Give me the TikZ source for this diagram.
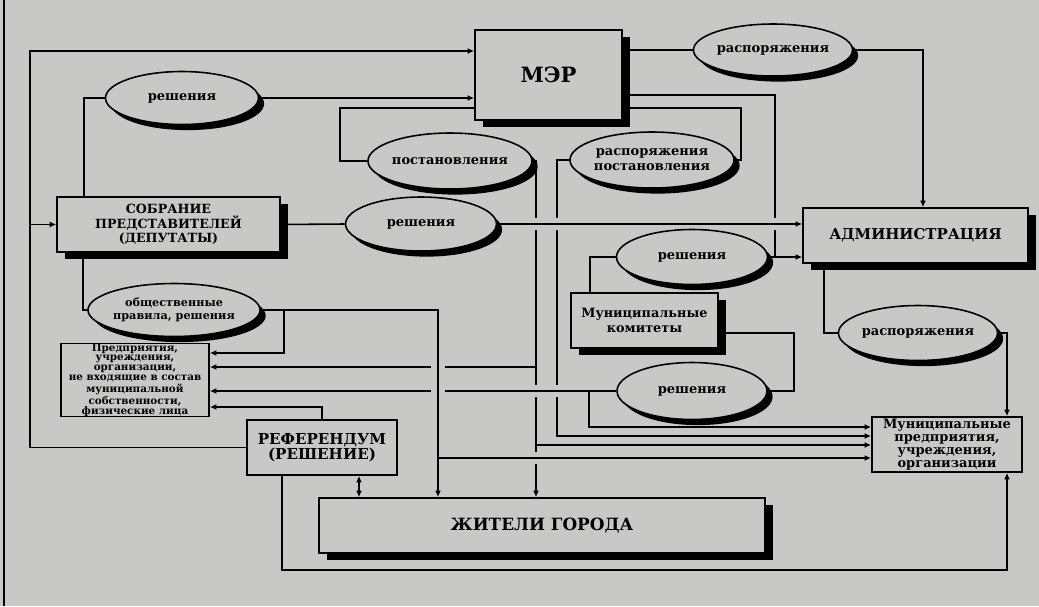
\documentclass[tikz,border=0pt]{standalone}
\usepackage{fontspec}
\setmainfont{DejaVu Serif}
\usetikzlibrary{shapes.geometric,shadows,arrows.meta}
\definecolor{paper}{RGB}{200,200,199}
\newcommand\cutv[1]{\fill[paper] (#1) ++(-4,-6) rectangle ++(8,12);}
\newcommand\cuth[1]{\fill[paper] (#1) ++(-7,-4) rectangle ++(14,8);}
\newcommand\fs[2]{\bfseries\fontsize{#1}{#2}\selectfont}
\tikzset{
  box/.style={draw, fill=paper, inner sep=0pt, align=center},
  shbox/.style={box, general shadow={fill=black, shadow xshift=4.8pt, shadow yshift=-4pt}},
  oval/.style={ellipse, draw, fill=paper, inner sep=0pt, align=center,
    font=\fs{7.4}{8.6}, general shadow={fill=black, shadow xshift=3.2pt, shadow yshift=-3.2pt}}
}

\begin{document}
\begin{tikzpicture}[x=0.02cm, y=-0.02cm, line width=0.9pt,
    >={Latex[length=3.8pt,width=3.4pt]}]
      \fill[paper] (0,0) rectangle (1039,606);
      \useasboundingbox (0,0) rectangle (1039,606);
      \draw[line width=0.6pt] (4,0) -- (4,606);

      \node[shbox, minimum width=2.94cm, minimum height=1.8cm, font=\fs{12}{14}] (mer) at (548.5,75) {МЭР};
      \node[oval, minimum width=3.0cm, minimum height=1.04cm] (rasp1) at (773,50) {распоряжения};
      \node[oval, minimum width=3.06cm, minimum height=1.06cm] (re1) at (182,98) {решения};
      \node[oval, minimum width=3.12cm, minimum height=1.12cm] (post) at (450,161) {постановления};
      \node[oval, minimum width=3.06cm, minimum height=1.12cm] (rasp2) at (652,160) {распоряжения\\постановления};
      \node[shbox, minimum width=4.46cm, minimum height=1.1cm, font=\fs{7.2}{8.4}] (sobr) at (168.5,224.5) {СОБРАНИЕ\\ПРЕДСТАВИТЕЛЕЙ\\(ДЕПУТАТЫ)};
      \node[oval, minimum width=3.02cm, minimum height=1.08cm] (re2) at (421,224) {решения};
      \node[shbox, minimum width=4.5cm, minimum height=1.1cm, font=\fs{8.5}{10}] (adm) at (915.5,235.5) {АДМИНИСТРАЦИЯ};
      \node[oval, minimum width=3.02cm, minimum height=1.1cm] (re3) at (692,257) {решения};
      \node[shbox, minimum width=2.94cm, minimum height=1.1cm, font=\fs{7.3}{8.6}] (kom) at (644.5,320.5) {Муниципальные\\комитеты};
      \node[oval, minimum width=3.06cm, minimum height=1.1cm] (rasp3) at (918,333) {распоряжения};
      \node[oval, minimum width=3.0cm, minimum height=1.14cm] (re4) at (692,391) {решения};
      \node[oval, minimum width=3.04cm, minimum height=1.06cm, font=\fs{6.4}{7.4}] (obsh) at (174,310) {общественные\\правила, решения};
      \node[box, minimum width=2.96cm, minimum height=1.44cm, font=\fs{5.9}{5.6}] (pred) at (135,380) {Предприятия,\\учреждения,\\организации,\\не входящие в состав\\муниципальной\\собственности,\\физические лица};
      \node[box, minimum width=3.0cm, minimum height=1.1cm, font=\fs{8.6}{8.8}] (ref) at (322,447.5) {РЕФЕРЕНДУМ\\(РЕШЕНИЕ)};
      \node[shbox, minimum width=8.92cm, minimum height=1.1cm, font=\fs{9.6}{12}] (zhit) at (542,525.5) {ЖИТЕЛИ ГОРОДА};
      \node[box, minimum width=3.0cm, minimum height=1.1cm, font=\fs{7.4}{7.5}] (mpred) at (947,444.5) {Муниципальные\\предприятия,\\учреждения,\\организации};

      \coordinate (Lt) at (30,51);
      \coordinate (Lm) at (30,224.5);
      \coordinate (Lb) at (30,447.5);
      \coordinate (Re1l) at (84,98);
      \coordinate (Postt) at (340,108);
      \coordinate (Postr) at (536,161);
      \coordinate (Raspt) at (741,108);
      \coordinate (Raspl) at (557,160);
      \coordinate (Raspb) at (557,436);
      \coordinate (Admt) at (775,95);
      \coordinate (Admj) at (775,257);
      \coordinate (Rasp1r) at (923,50);
      \coordinate (Komt) at (590,257);
      \coordinate (Komr) at (794,333);
      \coordinate (Re4r) at (794,391);
      \coordinate (Re4b) at (589,391);
      \coordinate (Re4m) at (589,427);
      \coordinate (Pred1) at (536,367);
      \coordinate (Mpr3) at (536,445);
      \coordinate (Obshl) at (83,310);
      \coordinate (Obshm) at (284,310);
      \coordinate (Obshr) at (438,310);
      \coordinate (Obshb) at (438,458);
      \coordinate (Pred0) at (284,353);
      \coordinate (Reft) at (322,407);
      \coordinate (Refz) at (359,0);
      \coordinate (Refl) at (282,570);
      \coordinate (Refr) at (1007,570);
      \coordinate (Adml) at (824,333);
      \coordinate (Rasp3r) at (1007,333);

      \draw[->] (ref.west) -- (Lb) -- (Lt) -- (Lt -| mer.west);
      \draw[->] (Lm) -- (sobr.west);
      \draw (Re1l |- sobr.north) -- (Re1l) -- (re1.west);
      \draw[->] (re1.east) -- (re1.east -| mer.west);
      \draw (Postt -| mer.west) -- (Postt) |- (post.west);
      \draw[->] (post.east) -- (Postr) -- (Postr |- zhit.north);
      \draw (Raspt -| mer.east) -- (Raspt) |- (rasp2.east);
      \draw[->] (rasp2.west) -- (Raspl) -- (Raspb) -- (Raspb -| mpred.west);
      \draw[->] (Admt -| mer.east) -- (Admt) -- (Admj) -- (Admj -| adm.west);
      \draw (re3.east) -- (Admj);
      \draw (rasp1.west -| mer.east) -- (rasp1.west);
      \draw[->] (rasp1.east) -- (Rasp1r) -- (Rasp1r |- adm.north);

      \cutv{536,224} \cutv{557,224} \cutv{775,224}
      \cutv{536,391} \cutv{557,391} \cutv{536,458}

      \draw (sobr.east) -- (re2.west);
      \draw[->] (re2.east) -- (re2.east -| adm.west);
      \draw (Komt |- kom.north) -- (Komt) -- (re3.west);
      \draw (Komr -| kom.east) -- (Komr) -- (Re4r) -- (re4.east);
      \draw[->] (re4.west) -- (re4.west -| pred.east);
      \draw[->] (Re4b) -- (Re4m) -- (Re4m -| mpred.west);
      \draw[->] (Pred1) -- (Pred1 -| pred.east);
      \draw[->] (Mpr3) -- (Mpr3 -| mpred.west);
      \draw[->] (Obshb) -- (Obshb -| mpred.west);

      \cuth{438,367} \cuth{438,391}

      \draw (Obshl |- sobr.south) -- (Obshl) -- (obsh.west);
      \draw[->] (obsh.east) -- (Obshr) -- (Obshr |- zhit.north);
      \draw[->] (Obshm) -- (Pred0) -- (Pred0 -| pred.east);
      \draw[->] (ref.north) -- (Reft) -- (Reft -| pred.east);
      \draw[<->] (Refz |- ref.south) -- (Refz |- zhit.north);
      \draw[->] (Refl |- ref.south) -- (Refl) -- (Refr) -- (Refr |- mpred.south);
      \draw (Adml |- adm.south) -- (Adml) -- (rasp3.west);
      \draw[->] (rasp3.east) -- (Rasp3r) -- (Rasp3r |- mpred.north);
\end{tikzpicture}
\end{document}
